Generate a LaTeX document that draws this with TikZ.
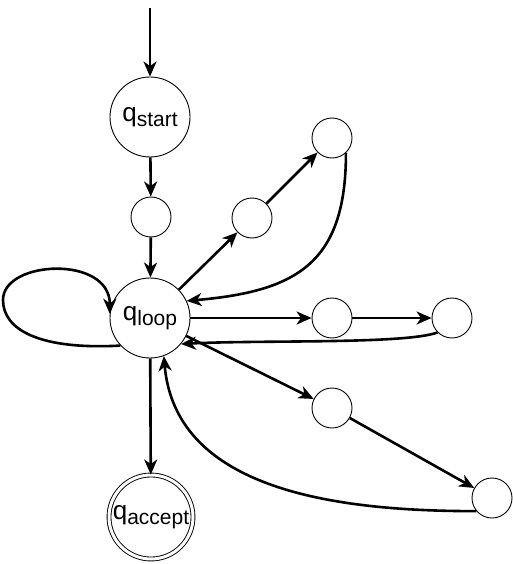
\documentclass[tikz,border=0pt]{standalone}
\usepackage{fontspec}
\setmainfont{Liberation Sans}
\usetikzlibrary{arrows.meta}
\newcommand{\qname}[1]{{\fontsize{26}{26}\selectfont q}\raisebox{-5pt}{\fontsize{21}{21}\selectfont #1}}
\begin{document}
\begin{tikzpicture}[x=1pt, y=-1pt, >={Stealth[length=15pt,width=13pt,inset=4.5pt]},
	state/.style={circle, draw, line width=0.9pt, inner sep=0pt, minimum size=80pt},
	small/.style={circle, draw, line width=0.9pt, inner sep=0pt, minimum size=40pt},
	edge/.style={->, line width=2.6pt}]
\useasboundingbox (0,0) rectangle (512,564);
\node[state] (qstart) at (150,117) {\qname{start}};
\node[small] (s1) at (151,217) {};
\node[state] (qloop) at (150,318) {\qname{loop}};
\node[state, minimum size=84pt, double, double distance=3pt] (qaccept) at (151,517) {\qname{accept}};
\node[small] (a1) at (252,218) {};
\node[small] (a2) at (332,138) {};
\node[small] (b1) at (332,318) {};
\node[small] (b2) at (452,318) {};
\node[small] (c1) at (332,408) {};
\node[small] (c2) at (492,498) {};
\coordinate (entry) at (150,8);

\draw[edge] (entry) -- (qstart);
\draw[edge] (qstart) -- (s1);
\draw[edge] (s1) -- (qloop);
\draw[edge] (qloop) -- (qaccept);
\draw[edge] (qloop.223) .. controls (40,350) and (3,330) .. (3,300)
	.. controls (3,260) and (110,255) .. (qloop.174);
% upper branch
\draw[edge] (qloop) -- (a1);
\draw[edge] (a1) -- (a2);
\draw[edge] (a2.-47) to[out=-90, in=5, looseness=1.3] (qloop.25);
% middle branch
\draw[edge] (qloop) -- (b1);
\draw[edge] (b1) -- (b2);
\draw[edge] (b2.225) to[out=200, in=3, out looseness=0.35, in looseness=0.8] (qloop.-40);
% lower branch
\draw[edge] (qloop) -- (c1);
\draw[edge] (c1) -- (c2);
\draw[edge] (c2.220) to[out=180, in=-85] (qloop.-70);
\end{tikzpicture}
\end{document}
